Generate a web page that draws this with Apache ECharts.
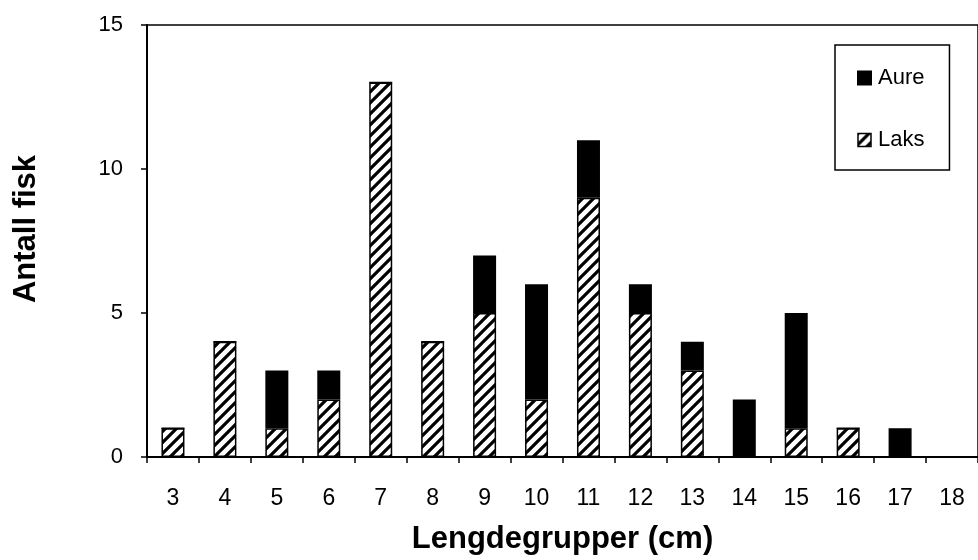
<!DOCTYPE html>
<html>
<head>
<meta charset="utf-8">
<script src="https://cdn.jsdelivr.net/npm/echarts@6/dist/echarts.min.js"></script>
<style>
html,body{margin:0;padding:0;background:#fff;}
#chart{width:978px;height:560px;}
</style>
</head>
<body>
<div id="chart"></div>
<script>
var categories = ['3','4','5','6','7','8','9','10','11','12','13','14','15','16','17','18'];
var laks = [1,4,1,2,13,4,5,2,9,5,3,0,1,1,0,0];
var aure = [0,0,2,1,0,0,2,4,2,1,1,2,4,0,1,0];
var yTicks = [0,5,10,15];

function makeHatch() {
  var s = 11;
  var c = document.createElement('canvas');
  c.width = s; c.height = s;
  var g = c.getContext('2d');
  g.fillStyle = '#fff';
  g.fillRect(0,0,s,s);
  g.strokeStyle = '#000';
  g.lineWidth = 3.2;
  g.lineCap = 'square';
  g.beginPath();
  g.moveTo(-s, 2*s); g.lineTo(2*s, -s);
  g.moveTo(-2*s, 2*s); g.lineTo(s, -s);
  g.moveTo(0, 2*s); g.lineTo(3*s, -s);
  g.stroke();
  return c;
}
var hatch = { image: makeHatch(), repeat: 'repeat' };

var chart = echarts.init(document.getElementById('chart'), null, {renderer:'canvas'});
var font = '"Liberation Sans", Arial, sans-serif';
chart.setOption({
  animation: false,
  backgroundColor: '#fff',
  textStyle: { fontFamily: font },
  grid: { left: 147, top: 25, width: 840, height: 435, show: true, borderColor: '#000', borderWidth: 1.5, backgroundColor: 'transparent' },
  legend: {
    orient: 'vertical',
    left: 835, top: 45,
    padding: [22, 25, 19, 22],
    itemGap: 40,
    itemWidth: 13, itemHeight: 13,
    borderColor: '#000', borderWidth: 1.5,
    textStyle: { fontFamily: font, fontSize: 22, color: '#000', padding: [0,0,0,2] },
    data: [
      { name: 'Aure', icon: 'rect' },
      { name: 'Laks', icon: 'rect', itemStyle: { color: hatch, borderColor: '#000', borderWidth: 1.5 } }
    ]
  },
  xAxis: {
    type: 'category',
    data: categories,
    boundaryGap: true,
    axisLine: { lineStyle: { color: '#000', width: 2 } },
    axisTick: { show: true, alignWithLabel: false, length: 6, lineStyle: { color: '#000', width: 1.5 } },
    axisLabel: { color: '#000', fontSize: 23, fontFamily: font, margin: 30, interval: 0 },
    name: 'Lengdegrupper (cm)',
    nameLocation: 'middle',
    nameGap: 67,
    nameTextStyle: { color: '#000', fontSize: 31, fontWeight: 'bold', fontFamily: font }
  },
  yAxis: {
    type: 'value',
    min: 0, max: 15, interval: 5,
    splitLine: { show: false },
    axisLine: { show: true, lineStyle: { color: '#000', width: 2 } },
    axisTick: { show: true, inside: false, length: 6, lineStyle: { color: '#000', width: 1.5 } },
    axisLabel: { color: '#000', fontSize: 22, fontFamily: font, margin: 24,
      formatter: function(v){ return yTicks.indexOf(v) >= 0 ? String(v) : ''; } }
  },
  graphic: [{
    type: 'text',
    x: 26, y: 229,
    rotation: Math.PI/2,
    style: { text: 'Antall fisk', fill: '#000', font: 'bold 31px "Liberation Sans", Arial, sans-serif', align: 'center', verticalAlign: 'middle' }
  }],
  series: [
    {
      name: 'Laks', type: 'bar', stack: 'total', barWidth: 23,
      data: laks,
      itemStyle: { color: hatch, borderColor: '#000', borderWidth: 1.5 },
      emphasis: { disabled: true }
    },
    {
      name: 'Aure', type: 'bar', stack: 'total', barWidth: 23,
      data: aure,
      itemStyle: { color: '#000', borderColor: '#000', borderWidth: 1.5 },
      emphasis: { disabled: true }
    }
  ]
});
</script>
</body>
</html>
